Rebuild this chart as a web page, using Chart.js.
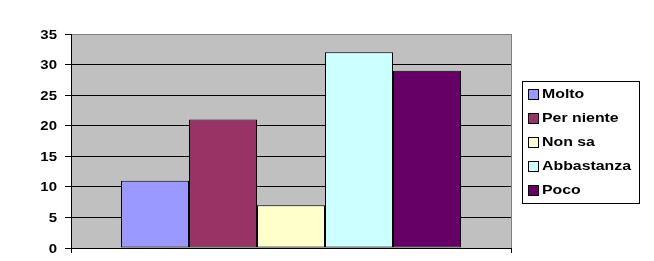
<!DOCTYPE html>
<html>
<head>
<meta charset="utf-8">
<script src="https://cdn.jsdelivr.net/npm/chart.js@4.4.1/dist/chart.umd.min.js"></script>
<style>
  html, body { margin: 0; padding: 0; background: #fff; }
  #wrap { width: 654px; height: 261px; }
</style>
</head>
<body>
<div id="wrap"><canvas id="chart" width="654" height="261"></canvas></div>
<script>
  const categories = ['Molto', 'Per niente', 'Non sa', 'Abbastanza', 'Poco'];
  const values = [11, 21, 7, 32, 29];
  const colors = ['#9999FF', '#993366', '#FFFFCC', '#CCFFFF', '#660066'];
  const yTicks = [0, 5, 10, 15, 20, 25, 30, 35];

  const FONT = 'bold 13px "Liberation Sans", Arial, sans-serif';

  // the excel text is stretched sideways, so scale x a little
  function stretchedText(ctx, text, x, y, align, sx) {
    ctx.save();
    ctx.translate(x, y);
    ctx.scale(sx, 1);
    ctx.textAlign = align;
    ctx.textBaseline = 'middle';
    ctx.font = FONT;
    ctx.fillStyle = '#000';
    ctx.fillText(text, 0, 0);
    ctx.restore();
  }

  const plotBg = {
    id: 'plotBg',
    beforeDraw(chart) {
      const { ctx, chartArea: a } = chart;
      ctx.save();
      ctx.fillStyle = '#C0C0C0';
      ctx.fillRect(a.left, a.top, a.right - a.left, a.bottom - a.top);
      ctx.strokeStyle = '#808080';
      ctx.lineWidth = 1;
      ctx.strokeRect(Math.round(a.left) + 0.5, Math.round(a.top) + 0.5,
        Math.round(a.right - a.left), Math.round(a.bottom - a.top));
      ctx.restore();
    }
  };

  const yLabels = {
    id: 'yLabels',
    afterDraw(chart) {
      const y = chart.scales.y;
      y.ticks.forEach(t => {
        stretchedText(chart.ctx, String(t.value), 57, y.getPixelForValue(t.value) + 1, 'right', 1.15);
      });
    }
  };

  const boxLegend = {
    id: 'boxLegend',
    afterDraw(chart) {
      const ctx = chart.ctx;
      const left = 522, top = 81, w = 117, h = 122;
      ctx.save();
      ctx.fillStyle = '#fff';
      ctx.fillRect(left, top, w, h);
      ctx.strokeStyle = '#000';
      ctx.lineWidth = 1;
      ctx.strokeRect(left + 0.5, top + 0.5, w, h);
      chart.data.datasets.forEach((ds, i) => {
        const cy = 94 + i * 24;
        ctx.fillStyle = ds.backgroundColor;
        ctx.fillRect(529, cy - 4, 9, 9);
        ctx.strokeStyle = '#000';
        ctx.strokeRect(528.5, cy - 4.5, 10, 10);
        stretchedText(ctx, ds.label, 542, cy + 0.5, 'left', 1.22);
      });
      ctx.restore();
    }
  };

  new Chart(document.getElementById('chart'), {
    type: 'bar',
    data: {
      labels: [''],
      datasets: categories.map((c, i) => ({
        label: c,
        data: [values[i]],
        backgroundColor: colors[i],
        borderColor: '#000',
        borderWidth: 1,
        borderSkipped: false,
        inflateAmount: 0
      }))
    },
    options: {
      responsive: false,
      animation: false,
      layout: { padding: { left: 0, right: 143, top: 34, bottom: 13 } },
      plugins: { legend: { display: false }, tooltip: { enabled: false } },
      // 440px wide plot, 5 bars of 68px
      datasets: { bar: { categoryPercentage: 340 / 440, barPercentage: 1 } },
      scales: {
        x: {
          ticks: { display: false },
          grid: { drawOnChartArea: false, offset: true, tickLength: 5, tickColor: '#000' },
          border: { color: '#000', width: 1 },
          afterFit(scale) { scale.height = 0; }
        },
        y: {
          min: 0,
          max: 35,
          afterBuildTicks(scale) { scale.ticks = yTicks.map(v => ({ value: v })); },
          ticks: { display: false },
          grid: {
            color: ctx => (ctx.tick && ctx.tick.value === 35 ? '#808080' : '#000'),
            tickColor: '#000',
            tickLength: 6
          },
          border: { color: '#000', width: 1 },
          afterFit(scale) { scale.width = 71; }
        }
      }
    },
    plugins: [plotBg, yLabels, boxLegend]
  });
</script>
</body>
</html>
